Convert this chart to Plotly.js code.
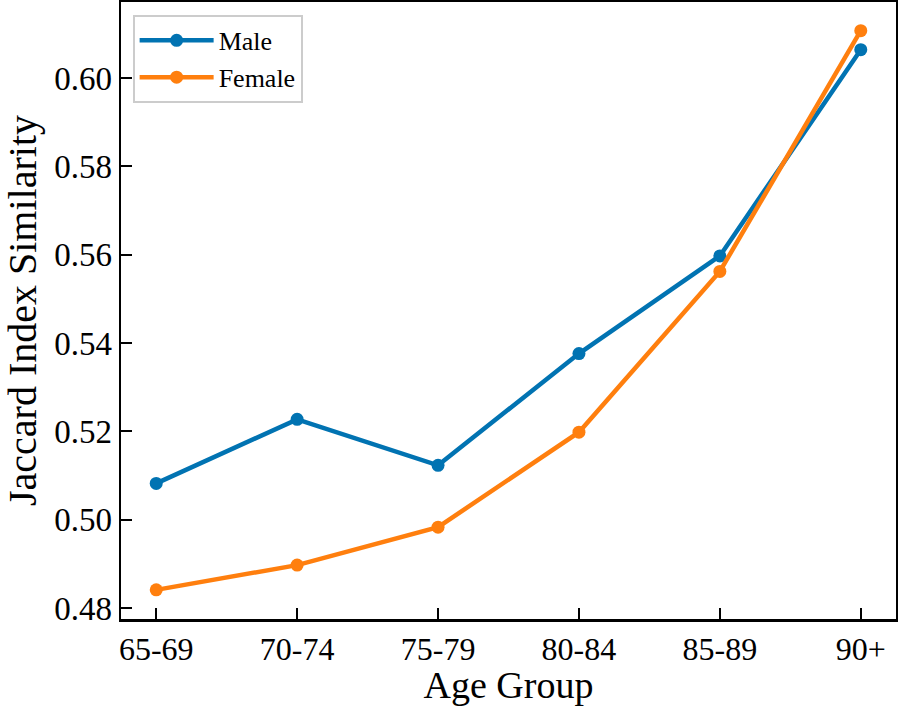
<!DOCTYPE html>
<html>
<head>
<meta charset="utf-8">
<script src="https://cdn.plot.ly/plotly-3.0.1.min.js"></script>
<style>
  html, body { margin: 0; padding: 0; background: #fff; }
  #chart { width: 898px; height: 706px; }
</style>
</head>
<body>
<div id="chart"></div>
<script>
// age groups on the x axis
const ageGroups = ["65-69", "70-74", "75-79", "80-84", "85-89", "90+"]

// Jaccard index similarity per group
const maleValues = [0.5082, 0.5227, 0.5123, 0.5376, 0.5597, 0.6064]
const femaleValues = [0.4841, 0.4897, 0.4983, 0.5198, 0.5562, 0.6107]

const yTicks = [0.48, 0.50, 0.52, 0.54, 0.56, 0.58, 0.60]

const serif = "Liberation Serif"
const xIndex = ageGroups.map((g, i) => i)

const male = {
    x: xIndex,
    y: maleValues,
    name: "Male",
    mode: "lines+markers",
    type: "scatter",
    line: {color: "#0173b2", width: 4.5},
    marker: {color: "#0173b2", size: 13}
}

const female = {
    x: xIndex,
    y: femaleValues,
    name: "Female",
    mode: "lines+markers",
    type: "scatter",
    line: {color: "#ff7f0e", width: 4.5},
    marker: {color: "#ff7f0e", size: 13}
}

const layout = {
    width: 898,
    height: 706,
    margin: {l: 121, r: 2, t: 2, b: 87},
    paper_bgcolor: "#fff",
    plot_bgcolor: "#fff",
    font: {family: serif, color: "#000"},
    showlegend: true,
    legend: {
        x: 0.015, y: 0.979,
        xanchor: "left", yanchor: "top",
        bgcolor: "rgba(255,255,255,0.8)",
        bordercolor: "#cccccc",
        borderwidth: 2,
        itemwidth: 74,
        font: {family: serif, size: 26, color: "#000"},
        tracegroupgap: 0
    },
    xaxis: {
        range: [-0.25, 5.25],
        tickmode: "array",
        tickvals: xIndex,
        ticktext: ageGroups,
        ticks: "inside",
        ticklen: 11,
        tickwidth: 2,
        tickcolor: "#000",
        showline: true,
        linecolor: "#000",
        linewidth: 2.5,
        mirror: true,
        showgrid: false,
        zeroline: false,
        tickfont: {family: serif, size: 32, color: "#000"},
        title: {text: "Age Group", font: {family: serif, size: 38}, standoff: 8}
    },
    yaxis: {
        range: [0.4775, 0.6172],
        tickmode: "array",
        tickvals: yTicks,
        ticktext: yTicks.map(v => v.toFixed(2)),
        ticks: "inside",
        ticklen: 11,
        tickwidth: 2,
        tickcolor: "#000",
        showline: true,
        linecolor: "#000",
        linewidth: 2.5,
        mirror: true,
        showgrid: false,
        zeroline: false,
        tickfont: {family: serif, size: 33, color: "#000"},
        title: {text: "Jaccard Index Similarity", font: {family: serif, size: 40}, standoff: 10}
    }
}

Plotly.newPlot("chart", [male, female], layout, {displayModeBar: false, staticPlot: true})
</script>
</body>
</html>
